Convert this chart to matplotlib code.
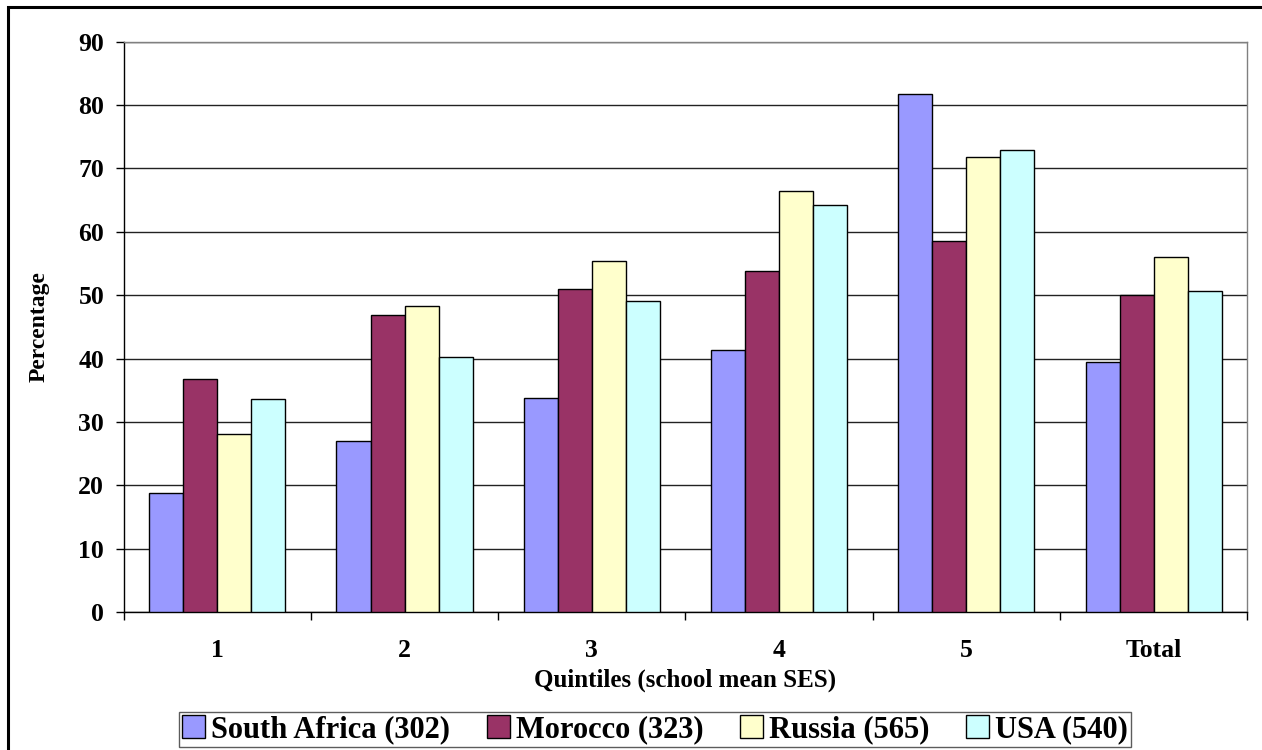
import matplotlib.pyplot as plt
import numpy as np
from matplotlib.patches import Rectangle
from matplotlib.ticker import FixedLocator, MultipleLocator

plt.rcParams["font.family"] = ["Liberation Serif", "DejaVu Serif"]
plt.rcParams["font.weight"] = "bold"

categories = ["1", "2", "3", "4", "5", "Total"]
south_africa = [18.8, 27.0, 33.8, 41.3, 81.7, 39.5]
morocco = [36.8, 46.9, 51.0, 53.8, 58.6, 50.1]
russia = [28.2, 48.3, 55.4, 66.4, 71.8, 56.0]
usa = [33.7, 40.3, 49.1, 64.3, 72.9, 50.7]

series = [
    ("South Africa (302)", south_africa, "#9999FF"),
    ("Morocco (323)", morocco, "#993366"),
    ("Russia (565)", russia, "#FFFFCC"),
    ("USA (540)", usa, "#CCFFFF"),
]

fig = plt.figure(figsize=(12.62, 7.5), dpi=100)
ax = fig.add_axes([0.098, 0.1836, 0.8903, 0.7608])

# gap width 150% of a bar, four bars per category
width = 1 / 5.5
x = np.arange(len(categories))
for i, (name, vals, col) in enumerate(series):
    ax.bar(x + (i - 1.5) * width, vals, width, color=col, edgecolor="black",
           linewidth=1.0, label=name, zorder=3)

ax.set_xlim(-0.5, len(categories) - 0.5)
ax.set_ylim(0, 90)
ax.yaxis.set_major_locator(MultipleLocator(10))
ax.grid(axis="y", color="#222222", linewidth=1.0, zorder=0)

ax.set_xticks(x)
ax.set_xticklabels(categories, fontsize=18.5, fontweight="bold")
ax.xaxis.set_minor_locator(FixedLocator(np.arange(-0.5, len(categories), 1.0)))
ax.tick_params(axis="x", which="major", length=0, pad=19)
ax.tick_params(axis="x", which="minor", length=6, width=1, direction="out")
ax.tick_params(axis="y", length=6, width=1, direction="out", pad=8, labelsize=18.5)
for lab in ax.get_yticklabels():
    lab.set_fontweight("bold")

ax.spines["left"].set_color("black")
ax.spines["bottom"].set_color("black")
ax.spines["top"].set_color("#808080")
ax.spines["right"].set_color("#808080")
for s in ax.spines.values():
    s.set_linewidth(1.0)

ax.set_ylabel("Percentage", fontsize=17, fontweight="bold")
ax.yaxis.set_label_coords(-0.066, 0.5)
ax.set_xlabel("Quintiles (school mean SES)", fontsize=18, fontweight="bold")
ax.xaxis.set_label_coords(0.5, -0.099)

leg = fig.legend(loc="center", bbox_to_anchor=(0.519, 0.027), ncol=4,
                 prop={"weight": "bold", "size": 22},
                 frameon=True, fancybox=False, edgecolor="#333333",
                 handlelength=0.75, handleheight=0.75, handletextpad=0.2,
                 columnspacing=1.2, borderpad=0.1)
leg.get_frame().set_linewidth(1.0)

# outer chart border
fig.patches.append(Rectangle((8 / 1262, -0.1), 1.2, 0.1 + 1 - 7 / 750,
                             transform=fig.transFigure, fill=False,
                             edgecolor="black", linewidth=2.2))

fig.savefig("out.png", dpi=100)
